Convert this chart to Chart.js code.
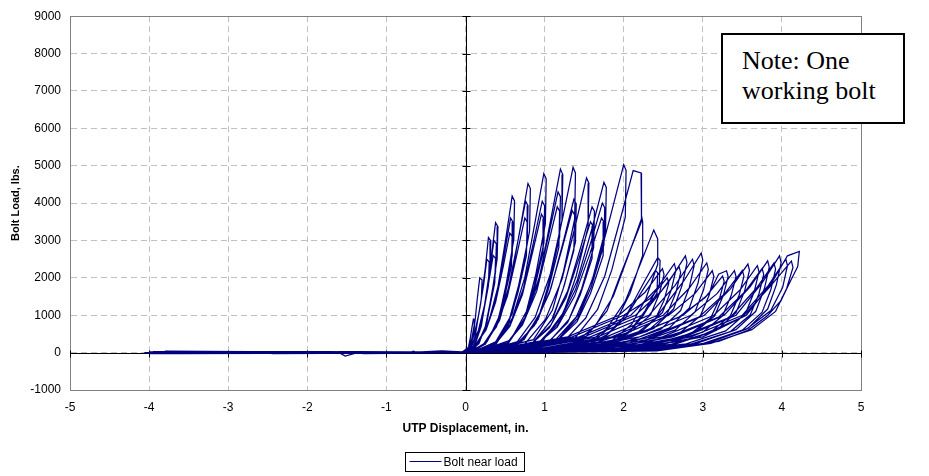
<!DOCTYPE html>
<html>
<head>
<meta charset="utf-8">
<script src="https://cdn.jsdelivr.net/npm/chart.js@4.4.1/dist/chart.umd.min.js"></script>
<style>
  html, body { margin: 0; padding: 0; background: #fff; }
  #wrap { position: relative; width: 929px; height: 476px; }
  #note {
    position: absolute; left: 721px; top: 33px; width: 184px; height: 91px;
    box-sizing: border-box; border: 2px solid #000; background: #fff;
    font-family: 'Liberation Serif', 'Times New Roman', serif;
    font-size: 26px; line-height: 30px; padding: 11px 0 0 19px; color: #000;
  }
</style>
</head>
<body>
<div id="wrap">
  <canvas id="chart" width="929" height="476"></canvas>
  <div id="note">Note: One<br>working bolt</div>
</div>
<script>
const seriesName = 'Bolt near load';
const xTitle = 'UTP Displacement, in.';
const yTitle = 'Bolt Load, lbs.';
const xTickLabels = ['-5', '-4', '-3', '-2', '-1', '0', '1', '2', '3', '4', '5'];
const yTickLabels = ['-1000', '0', '1000', '2000', '3000', '4000', '5000', '6000', '7000', '8000', '9000'];

// early cycles: tall narrow loops up to ~5000 lbs (one row per cycle)
const phase1Disp = [
  -0.10, 0.01, 0.04, 0.06, 0.08, 0.10, 0.12, 0.11, 0.09, 0.07, 0.04, -0.05, -0.30,
  -0.05, 0.03, 0.08, 0.12, 0.15, 0.18, 0.21, 0.20, 0.155, 0.125, 0.075, 0.00, -0.45,
  -0.05, 0.05, 0.13, 0.19, 0.25, 0.29, 0.32, 0.31, 0.25, 0.20, 0.12, 0.02, -0.30, -0.62, -0.66, -0.70,
  0.00, 0.03, 0.11, 0.17, 0.23, 0.27, 0.30, 0.29, 0.23, 0.18, 0.10, 0.02, -0.50,
  0.00, 0.08, 0.18, 0.26, 0.325, 0.38, 0.41, 0.40, 0.33, 0.27, 0.17, 0.04, -0.80,
  0.02, 0.06, 0.16, 0.24, 0.305, 0.36, 0.39, 0.38, 0.31, 0.25, 0.15, 0.04, -0.75,
  0.03, 0.05, 0.15, 0.23, 0.295, 0.35, 0.38, 0.37, 0.30, 0.24, 0.14, 0.05, -0.70,
  0.00, 0.14, 0.29, 0.41, 0.51, 0.59, 0.62, 0.61, 0.515, 0.425, 0.275, 0.06, -1.00,
  0.03, 0.12, 0.27, 0.39, 0.49, 0.57, 0.60, 0.59, 0.495, 0.405, 0.255, 0.07, -1.00,
  0.05, 0.11, 0.26, 0.38, 0.48, 0.56, 0.59, 0.58, 0.485, 0.395, 0.245, 0.08, -0.95,
  0.00, 0.25, 0.43, 0.57, 0.69, 0.79, 0.82, 0.81, 0.70, 0.59, 0.41, 0.10, -1.30,
  0.04, 0.22, 0.40, 0.54, 0.66, 0.76, 0.79, 0.78, 0.67, 0.56, 0.38, 0.10, -1.30,
  0.06, 0.21, 0.39, 0.53, 0.65, 0.75, 0.78, 0.77, 0.66, 0.55, 0.37, 0.12, -1.25,
  0.05, 0.39, 0.59, 0.75, 0.88, 0.99, 1.02, 1.01, 0.89, 0.77, 0.57, 0.15, -1.40, -1.52, -1.60,
  0.08, 0.37, 0.57, 0.73, 0.86, 0.97, 1.00, 0.99, 0.87, 0.75, 0.55, 0.15, -1.60,
  0.10, 0.36, 0.56, 0.72, 0.85, 0.96, 0.99, 0.98, 0.86, 0.74, 0.54, 0.18, -1.55,
  0.08, 0.54, 0.76, 0.94, 1.08, 1.20, 1.23, 1.22, 1.09, 0.96, 0.74, 0.20, -1.80,
  0.10, 0.51, 0.73, 0.91, 1.05, 1.17, 1.20, 1.19, 1.06, 0.93, 0.71, 0.20, -1.80,
  0.12, 0.50, 0.72, 0.90, 1.04, 1.16, 1.19, 1.18, 1.05, 0.92, 0.70, 0.22, -1.75,
  0.10, 0.64, 0.88, 1.07, 1.23, 1.36, 1.39, 1.38, 1.24, 1.10, 0.86, 0.25, -2.00,
  0.12, 0.65, 0.89, 1.08, 1.24, 1.37, 1.40, 1.39, 1.25, 1.11, 0.87, 0.25, -2.00,
  0.14, 0.63, 0.87, 1.06, 1.22, 1.35, 1.38, 1.37, 1.23, 1.09, 0.85, 0.28, -1.95,
  0.12, 0.75, 1.01, 1.22, 1.39, 1.53, 1.56, 1.55, 1.40, 1.24, 0.98, 0.30, -2.20,
  0.15, 0.82, 1.08, 1.29, 1.46, 1.60, 1.63, 1.62, 1.47, 1.31, 1.05, 0.30, -2.30,
  0.18, 0.80, 1.06, 1.27, 1.44, 1.58, 1.61, 1.60, 1.45, 1.29, 1.03, 0.32, -2.25,
  0.15, 0.91, 1.19, 1.41, 1.60, 1.75, 1.78, 1.77, 1.61, 1.44, 1.16, 0.35, -2.50,
  0.18, 0.89, 1.17, 1.39, 1.58, 1.73, 1.76, 1.75, 1.59, 1.42, 1.14, 0.35, -2.50,
  0.20, 0.88, 1.16, 1.38, 1.57, 1.72, 1.75, 1.74, 1.58, 1.41, 1.13, 0.38, -2.45,
  0.18, 1.10, 1.40, 1.64, 1.835, 2.00, 2.03, 2.02, 1.85, 1.67, 1.37, 0.40, -2.80,
  0.20, 1.22, 1.52, 1.76, 1.955, 2.12, 2.22, 2.23, 2.22, 1.97, 1.79, 1.49, 0.45, -3.00,
  0.25, 1.33, 1.63, 1.87, 2.065, 2.23, 2.24, 2.24, 2.08, 1.90, 1.60, 0.45, -3.00,
  0.30, 1.48, 1.78, 2.02, 2.215, 2.38, 2.43, 2.43, 2.28, 2.10, 1.80, 0.50, -3.10,
  0.35, 1.47, 1.79, 2.05, 2.25, 2.43, 2.46, 2.45, 2.27, 2.08, 1.76, 0.50, -3.20,
  0.38, 1.44, 1.76, 2.02, 2.22, 2.40, 2.43, 2.42, 2.24, 2.05, 1.73, 0.55, -3.15
];
const phase1Load = [
  0, 45, 171, 378, 657, 900, 873, 648, 396, 207, 63, 5, -5,
  0, 100, 380, 840, 1460, 2000, 1940, 1440, 880, 460, 140, 10, 10,
  0, 154, 585, 1292, 2246, 3077, 2985, 2215, 1354, 708, 215, 15, 50, 10, 40, 5,
  0, 125, 475, 1050, 1825, 2500, 2425, 1800, 1100, 575, 175, 10, -15,
  0, 174, 660, 1460, 2537, 3476, 3372, 2503, 1529, 799, 243, 15, 20,
  0, 150, 570, 1260, 2190, 3000, 2910, 2160, 1320, 690, 210, 10, -10,
  0, 130, 494, 1092, 1898, 2600, 2522, 1872, 1144, 598, 182, 10, 15,
  0, 209, 795, 1758, 3056, 4186, 4060, 3014, 1842, 963, 293, 20, 15,
  0, 180, 684, 1512, 2628, 3600, 3492, 2592, 1584, 828, 252, 15, -20,
  0, 160, 608, 1344, 2336, 3200, 3104, 2304, 1408, 736, 224, 15, 10,
  0, 226, 860, 1900, 3303, 4524, 4388, 3257, 1991, 1041, 317, 20, 10,
  0, 203, 770, 1701, 2957, 4050, 3929, 2916, 1782, 932, 284, 15, -25,
  0, 180, 684, 1512, 2628, 3600, 3492, 2592, 1584, 828, 252, 15, 20,
  0, 240, 910, 2012, 3497, 4790, 4646, 3449, 2108, 1102, 335, 20, -20, -90, 0,
  0, 203, 770, 1701, 2957, 4050, 3929, 2916, 1782, 932, 284, 15, 25,
  0, 185, 703, 1554, 2701, 3700, 3589, 2664, 1628, 851, 259, 15, -15,
  0, 246, 933, 2063, 3586, 4912, 4765, 3537, 2161, 1130, 344, 20, -15,
  0, 215, 817, 1806, 3139, 4300, 4171, 3096, 1892, 989, 301, 15, 20,
  0, 195, 741, 1638, 2847, 3900, 3783, 2808, 1716, 897, 273, 15, -10,
  0, 248, 942, 2082, 3619, 4957, 4808, 3569, 2181, 1140, 347, 20, -20,
  0, 205, 779, 1722, 2993, 4100, 3977, 2952, 1804, 943, 287, 15, 15,
  0, 190, 722, 1596, 2774, 3800, 3686, 2736, 1672, 874, 266, 15, -5,
  0, 234, 888, 1963, 3411, 4673, 4533, 3365, 2056, 1075, 327, 20, -10,
  0, 195, 741, 1638, 2847, 3900, 3783, 2808, 1716, 897, 273, 15, 25,
  0, 175, 665, 1470, 2555, 3500, 3395, 2520, 1540, 805, 245, 15, -5,
  0, 228, 866, 1914, 3327, 4558, 4421, 3282, 2006, 1048, 319, 20, -20,
  0, 200, 760, 1680, 2920, 4000, 3880, 2880, 1760, 920, 280, 15, 10,
  0, 180, 684, 1512, 2628, 3600, 3492, 2592, 1584, 828, 252, 15, -25,
  0, 251, 956, 2112, 3671, 5029, 4878, 3621, 2213, 1157, 352, 20, -15,
  0, 244, 925, 2045, 3555, 4870, 4805, 4140, 3506, 2143, 1120, 341, 20, 20,
  0, 181, 686, 1516, 2635, 3610, 3502, 2599, 1588, 830, 253, 15, -20,
  0, 164, 623, 1378, 2394, 3280, 3040, 2362, 1443, 754, 230, 15, 15,
  0, 127, 483, 1067, 1854, 2540, 2464, 1829, 1118, 584, 178, 10, -10,
  0, 110, 418, 924, 1606, 2200, 2134, 1584, 968, 506, 154, 10, 20
];

// late cycles: wide loops, 2000-2700 lbs
const phase2Disp = [
  0.00, 0.49, 1.29, 1.94, 2.27, 2.49, 2.51, 2.45, 2.34, 2.09, 1.59, 0.79, 0.10, -3.20,
  0.10, 0.55, 1.35, 2.00, 2.33, 2.55, 2.57, 2.51, 2.40, 2.15, 1.65, 0.85, 0.15, -3.25,
  0.10, 0.64, 1.44, 2.09, 2.42, 2.64, 2.66, 2.60, 2.49, 2.24, 1.74, 0.94, 0.20, -3.30,
  0.25, 0.70, 1.50, 2.15, 2.48, 2.70, 2.72, 2.66, 2.55, 2.30, 1.80, 1.00, 0.25, -3.35,
  0.20, 0.78, 1.58, 2.23, 2.56, 2.78, 2.80, 2.74, 2.63, 2.38, 1.88, 1.08, 0.30, -3.40,
  0.30, 0.87, 1.67, 2.32, 2.65, 2.87, 2.89, 2.83, 2.72, 2.47, 1.97, 1.17, 0.35, -3.50,
  0.30, 0.98, 1.78, 2.43, 2.76, 2.98, 3.00, 2.94, 2.83, 2.58, 2.08, 1.28, 0.40, -3.50,
  0.45, 1.05, 1.85, 2.50, 2.83, 3.05, 3.07, 3.01, 2.90, 2.65, 2.15, 1.35, 0.45, -3.55,
  0.40, 1.12, 1.92, 2.57, 2.90, 3.12, 3.14, 3.08, 2.97, 2.72, 2.22, 1.42, 0.50, -3.60,
  0.55, 1.25, 2.05, 2.70, 3.03, 3.25, 3.27, 3.21, 3.10, 2.85, 2.35, 1.55, 0.55, -3.65,
  0.50, 1.30, 2.10, 2.75, 3.08, 3.20, 3.30, 3.32, 3.26, 3.15, 2.90, 2.40, 1.60, 0.60, -3.70,
  0.55, 1.40, 2.20, 2.85, 3.18, 3.40, 3.42, 3.36, 3.25, 3.00, 2.50, 1.70, 0.65, -3.70,
  0.65, 1.50, 2.30, 2.95, 3.28, 3.50, 3.52, 3.46, 3.35, 3.10, 2.60, 1.80, 0.70, -3.75,
  0.60, 1.57, 2.37, 3.02, 3.35, 3.57, 3.59, 3.53, 3.42, 3.17, 2.67, 1.87, 0.75, -3.80,
  0.70, 1.69, 2.49, 3.14, 3.47, 3.69, 3.71, 3.65, 3.54, 3.29, 2.79, 1.99, 0.80, -3.80,
  0.75, 1.75, 2.55, 3.20, 3.53, 3.75, 3.77, 3.71, 3.60, 3.35, 2.85, 2.05, 0.85, -3.85,
  0.80, 1.82, 2.62, 3.27, 3.60, 3.82, 3.84, 3.78, 3.67, 3.42, 2.92, 2.12, 0.90, -3.90,
  0.85, 1.90, 2.70, 3.35, 3.68, 3.90, 3.92, 3.86, 3.75, 3.50, 3.00, 2.20, 0.95, -3.95,
  0.90, 1.97, 2.77, 3.42, 3.75, 3.97, 3.99, 3.93, 3.82, 3.57, 3.07, 2.27, 1.00, -4.00,
  1.00, 2.05, 2.85, 3.50, 3.83, 4.05, 4.07, 4.01, 3.86, 3.55, 3.05, 2.35, 1.05, -4.00,
  1.05, 2.12, 2.92, 3.50, 3.85, 4.12, 4.14, 4.06, 3.92, 3.62, 3.10, 2.42, 1.10, -4.03,
  1.10, 2.20, 3.00, 3.55, 3.88, 4.07, 4.22, 4.20, 4.11, 3.99, 3.82, 3.57, 3.20, 2.50, 1.50, -4.06
];
const phase2Load = [
  0, 120, 420, 1000, 1616, 2245, 2088, 1572, 1010, 561, 225, 45, 5, 20,
  0, 120, 420, 1000, 1440, 2000, 1860, 1400, 900, 500, 200, 40, 5, 15,
  0, 120, 420, 1000, 1714, 2380, 2213, 1666, 1071, 595, 238, 48, 5, -20,
  0, 120, 420, 1000, 1656, 2300, 2139, 1610, 1035, 575, 230, 46, 5, -20,
  0, 120, 420, 1000, 1865, 2590, 2409, 1813, 1166, 648, 259, 52, 5, 25,
  0, 120, 420, 1000, 1800, 2500, 2325, 1750, 1125, 625, 250, 50, 5, 10,
  0, 120, 420, 1000, 1917, 2662, 2476, 1863, 1198, 666, 266, 53, 5, -15,
  0, 120, 420, 1000, 1728, 2400, 2232, 1680, 1080, 600, 240, 48, 5, 25,
  0, 120, 420, 1000, 1577, 2190, 2037, 1533, 986, 548, 219, 44, 5, -25,
  0, 110, 400, 950, 1476, 2050, 1907, 1435, 923, 513, 205, 41, 5, -15,
  0, 120, 420, 1000, 1577, 2100, 2190, 2037, 1533, 986, 548, 219, 44, 5, 20,
  0, 120, 420, 1000, 1578, 2191, 2038, 1534, 986, 548, 219, 44, 5, -10,
  0, 110, 400, 950, 1584, 2200, 2046, 1540, 990, 550, 220, 44, 5, 10,
  0, 120, 420, 1000, 1706, 2370, 2204, 1659, 1067, 593, 237, 47, 5, 30,
  0, 120, 420, 1000, 1674, 2325, 2162, 1628, 1046, 581, 233, 47, 5, -20,
  0, 110, 400, 950, 1620, 2250, 2093, 1575, 1013, 563, 225, 45, 5, -25,
  0, 120, 420, 1000, 1769, 2457, 2285, 1720, 1106, 614, 246, 49, 5, 15,
  0, 110, 400, 950, 1728, 2400, 2232, 1680, 1080, 600, 240, 48, 5, 20,
  0, 120, 420, 1000, 1865, 2590, 2409, 1813, 1166, 648, 259, 52, 5, -25,
  0, 120, 420, 1000, 1801, 2502, 2327, 1751, 1126, 626, 250, 50, 5, 20,
  0, 110, 400, 950, 1764, 2450, 2279, 1715, 1103, 613, 245, 49, 5, -10,
  0, 120, 420, 1000, 1900, 2590, 2705, 2300, 1925, 1394, 995, 596, 300, 100, 20, 0
];

const points = [];
[[phase1Disp, phase1Load], [phase2Disp, phase2Load]].forEach(function (pair) {
  pair[0].forEach(function (x, i) {
    points.push({ x: x, y: pair[1][i] });
  });
});

const sansFont = "'Liberation Sans', Arial, sans-serif";

// plot frame, axes through zero, and the boxed legend
const frameAndAxes = {
  id: 'frameAndAxes',
  beforeDatasetsDraw(chart) {
    const ctx = chart.ctx;
    const a = chart.chartArea;
    const xs = chart.scales.x;
    const ys = chart.scales.y;
    ctx.save();
    ctx.lineWidth = 1;
    ctx.strokeStyle = '#808080';
    ctx.strokeRect(Math.round(a.left) + 0.5, Math.round(a.top) + 0.5,
      Math.round(a.right - a.left), Math.round(a.bottom - a.top));

    const x0 = Math.round(xs.getPixelForValue(0)) + 0.5;
    const y0 = Math.round(ys.getPixelForValue(0)) + 0.5;
    ctx.strokeStyle = '#000';
    ctx.beginPath();
    ctx.moveTo(a.left, y0); ctx.lineTo(a.right, y0);
    ctx.moveTo(x0, a.top); ctx.lineTo(x0, a.bottom);
    xTickLabels.forEach(function (t) {
      const px = Math.round(xs.getPixelForValue(Number(t))) + 0.5;
      ctx.moveTo(px, y0 - 3); ctx.lineTo(px, y0 + 4);
    });
    yTickLabels.forEach(function (t) {
      const py = Math.round(ys.getPixelForValue(Number(t))) + 0.5;
      ctx.moveTo(x0 - 4, py); ctx.lineTo(x0 + 4, py);
    });
    ctx.stroke();
    ctx.restore();
  },
  afterDraw(chart) {
    const ctx = chart.ctx;
    const ds = chart.data.datasets[0];
    ctx.save();
    ctx.font = '12px ' + sansFont;
    const tw = ctx.measureText(ds.label).width;
    const w = Math.round(5 + 31 + 3 + tw + 6);
    const left = Math.round((chart.width - w) / 2) + 0.5;
    const top = 452.5;
    ctx.lineWidth = 1;
    ctx.strokeStyle = '#000';
    ctx.strokeRect(left, top, w, 19);
    ctx.strokeStyle = ds.borderColor;
    ctx.beginPath();
    ctx.moveTo(left + 4, top + 9); ctx.lineTo(left + 36, top + 9);
    ctx.stroke();
    ctx.fillStyle = '#000';
    ctx.textBaseline = 'middle';
    ctx.fillText(ds.label, left + 38, top + 10);
    ctx.restore();
  }
};

new Chart(document.getElementById('chart'), {
  type: 'scatter',
  data: {
    datasets: [{
      label: seriesName,
      data: points,
      showLine: true,
      borderColor: '#000080',
      borderWidth: 1.25,
      pointRadius: 0,
      pointHoverRadius: 0,
      tension: 0,
      fill: false
    }]
  },
  options: {
    responsive: false,
    animation: false,
    layout: { padding: { top: 14, right: 68, bottom: 0, left: 0 } },
    plugins: {
      legend: { display: false },
      tooltip: { enabled: false }
    },
    scales: {
      x: {
        type: 'linear',
        min: -5,
        max: 5,
        ticks: {
          stepSize: 1,
          color: '#000',
          font: { family: sansFont, size: 12 },
          padding: 10,
          maxRotation: 0,
          callback: (v, i) => xTickLabels[i]
        },
        grid: { color: '#c0c0c0', drawTicks: false },
        border: { color: '#808080', dash: [6, 4] },
        title: {
          display: true,
          text: xTitle,
          color: '#000',
          font: { family: sansFont, size: 12, weight: 'bold' },
          padding: { top: 0, bottom: 40 }
        },
        afterFit(scale) { scale.height = 86; }
      },
      y: {
        type: 'linear',
        min: -1000,
        max: 9000,
        ticks: {
          stepSize: 1000,
          color: '#000',
          font: { family: sansFont, size: 12 },
          padding: 9,
          callback: (v, i) => yTickLabels[i]
        },
        grid: { color: '#c0c0c0', drawTicks: false },
        border: { color: '#808080', dash: [6, 4] },
        title: {
          display: true,
          text: yTitle,
          color: '#000',
          font: { family: sansFont, size: 11, weight: 'bold' },
          padding: { top: 9, bottom: 0 }
        },
        afterFit(scale) { scale.width = 70; }
      }
    }
  },
  plugins: [frameAndAxes]
});
</script>
</body>
</html>
